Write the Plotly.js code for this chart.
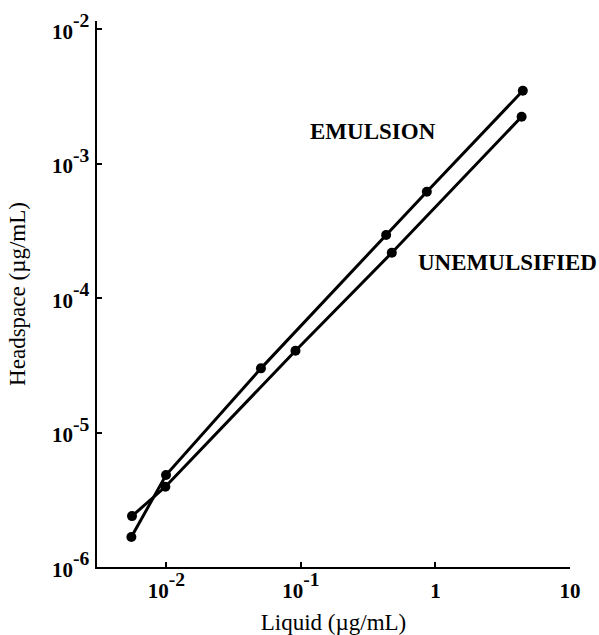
<!DOCTYPE html>
<html>
<head>
<meta charset="utf-8">
<script src="https://cdn.plot.ly/plotly-3.0.1.min.js"></script>
<style>html,body{margin:0;padding:0;background:#fff;}#chart{width:599px;height:635px;}</style>
</head>
<body>
<div id="chart"></div>
<script>
// Data (log-log)
const emulsionX = [0.0055, 0.00995, 0.0505, 0.430, 0.863, 4.46];
const emulsionY = [1.67e-6, 4.83e-6, 3.00e-5, 2.94e-4, 6.17e-4, 3.48e-3];
const unemulsifiedX = [0.00556, 0.00984, 0.0912, 0.474, 4.37];
const unemulsifiedY = [2.39e-6, 3.95e-6, 4.06e-5, 2.17e-4, 2.23e-3];

const xTickVals = [0.01, 0.1, 1, 10];
const xTickExp = ["-2", "-1", "", ""];
const xTickBase = ["10", "10", "1", "10"];
const yTickVals = [1e-6, 1e-5, 1e-4, 1e-3, 1e-2];
const yTickExp = ["-6", "-5", "-4", "-3", "-2"];

const seriesNames = ["EMULSION", "UNEMULSIFIED"];

function tickLabel(base, exp) {
  return "<b><span style='font-size:21px'>" + base + "</span>" + (exp ? "<sup>" + exp + "</sup>" : "") + "</b>";
}
const xTickText = xTickVals.map((v, i) => tickLabel(xTickBase[i], xTickExp[i]));
const yTickText = yTickVals.map((v, i) => tickLabel("10", yTickExp[i]));

const font = "Liberation Serif, Times New Roman, serif";
const lineStyle = {color: "#000", width: 3};
const markerStyle = {color: "#000", size: 10};

const traces = [
  {x: emulsionX, y: emulsionY, mode: "lines+markers", name: seriesNames[0], line: lineStyle, marker: markerStyle},
  {x: unemulsifiedX, y: unemulsifiedY, mode: "lines+markers", name: seriesNames[1], line: lineStyle, marker: markerStyle}
];

const layout = {
  width: 599, height: 635,
  margin: {l: 97, r: 29, t: 21, b: 68},
  paper_bgcolor: "#fff", plot_bgcolor: "#fff",
  showlegend: false,
  font: {family: font, color: "#000"},
  xaxis: {
    type: "log", range: [-2.515, 1.0],
    tickvals: xTickVals, ticktext: xTickText,
    tickfont: {family: font, size: 28, color: "#000"},
    ticks: "inside", ticklen: 5, tickwidth: 2, tickcolor: "#000",
    ticklabelstandoff: -5,
    showline: true, linecolor: "#000", linewidth: 2,
    showgrid: false, zeroline: false,
    title: {text: "Liquid (µg/mL)", font: {family: font, size: 23, color: "#000"}, standoff: 14}
  },
  yaxis: {
    type: "log", range: [-6, -1.94],
    tickvals: yTickVals, ticktext: yTickText,
    tickfont: {family: font, size: 28, color: "#000"},
    ticks: "inside", ticklen: 5, tickwidth: 2, tickcolor: "#000",
    showline: true, linecolor: "#000", linewidth: 2,
    showgrid: false, zeroline: false,
    title: {text: "Headspace (µg/mL)", font: {family: font, size: 23, color: "#000"}, standoff: 20}
  },
  annotations: [
    {xref: "paper", yref: "paper", x: 0.5835, y: 0.797, text: "<b>" + seriesNames[0] + "</b>", showarrow: false,
     font: {family: font, size: 23, color: "#000"}, xanchor: "center", yanchor: "middle"},
    {xref: "paper", yref: "paper", x: 0.867, y: 0.557, text: "<b>" + seriesNames[1] + "</b>", showarrow: false,
     font: {family: font, size: 23, color: "#000"}, xanchor: "center", yanchor: "middle"}
  ]
};

Plotly.newPlot("chart", traces, layout, {displayModeBar: false, staticPlot: true});
</script>
</body>
</html>
